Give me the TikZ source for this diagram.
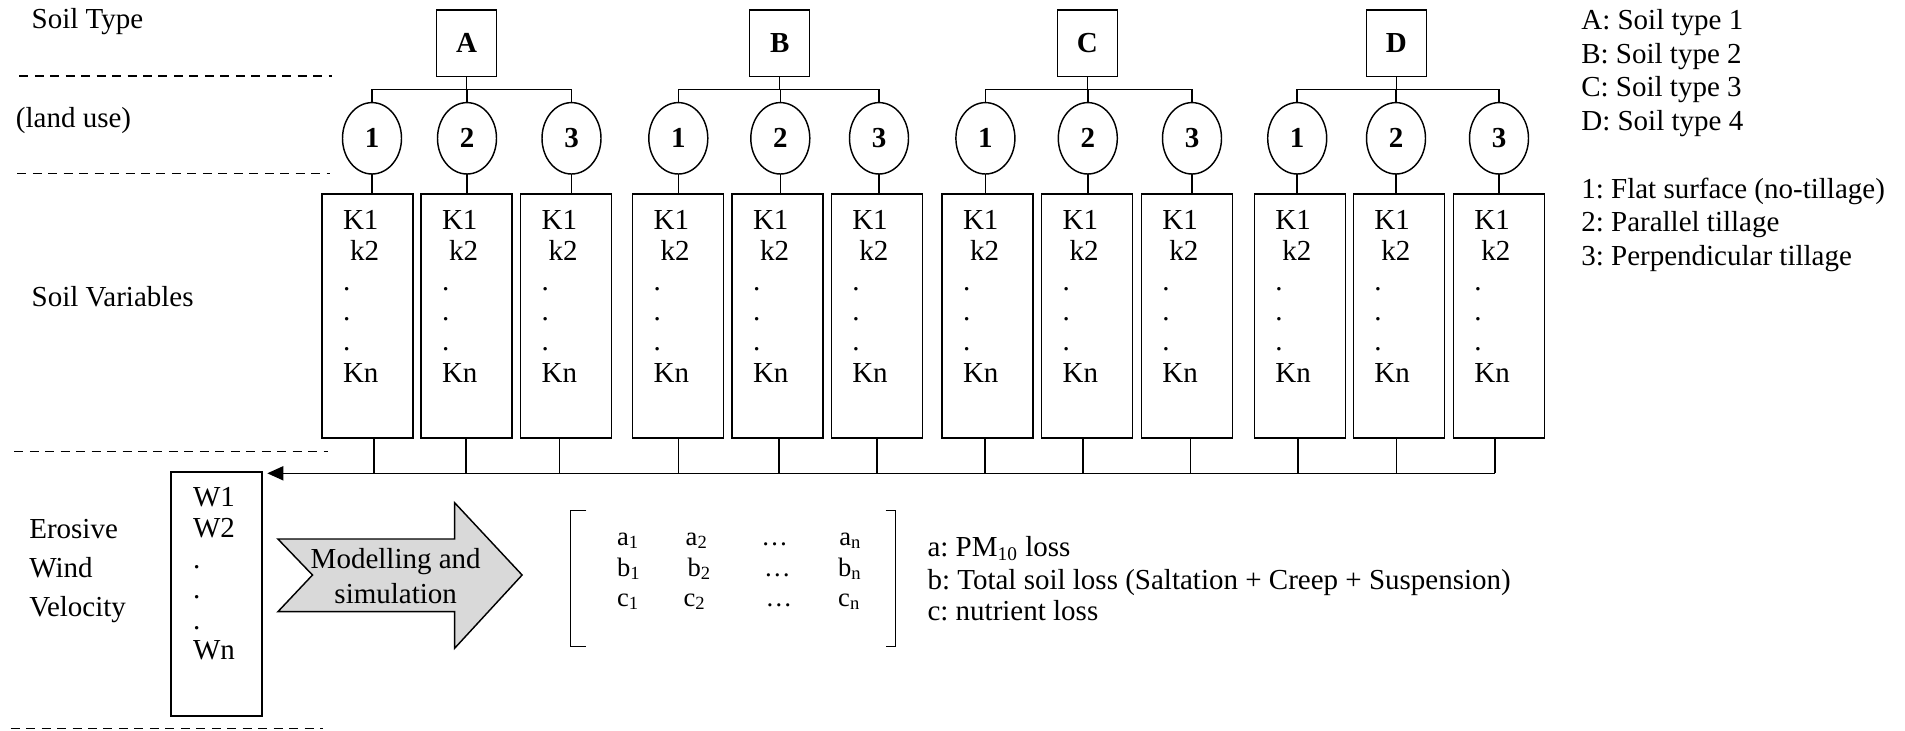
\documentclass[tikz,border=0pt]{standalone}
\usepackage{fontspec}
\setmainfont{Liberation Serif}
\usetikzlibrary{shapes.geometric,arrows.meta}
\newcommand\myfs{\fontsize{12pt}{14pt}\selectfont}
\newcommand\myfsb{\fontsize{12pt}{14pt}\selectfont\bfseries}
\newcommand\mymx{\fontsize{11pt}{13pt}\selectfont}
\def\U{0.4138pt}
\frenchspacing
\begin{document}
\frenchspacing
\begin{tikzpicture}[x=\U, y=-\U, line width=0.6pt,
  every node/.style={inner sep=0pt, outer sep=0pt, font=\myfs},
  txt/.style={anchor=base west},
  ctxt/.style={anchor=base},
  mtxt/.style={anchor=base west, font=\mymx},
  soilbox/.style={draw, rectangle, minimum width=60*\U, minimum height=66.7*\U, font=\myfsb},
  lu/.style={draw, ellipse, minimum width=59*\U, minimum height=71.4*\U, font=\myfsb},
  varbox/.style={draw, rectangle, minimum width=91*\U, minimum height=244*\U, anchor=north west},
  sep/.style={dash pattern=on 3.7pt off 2.7pt, line width=0.55pt},
  grayarrow/.style={fill=black!15, draw=black}
]
\useasboundingbox (0,0) rectangle (1905,730);

% left labels
\node[txt] (lSoilType) at (31.7,28.3) {Soil Type};
\node[txt] (lLand) at (16,127.7) {(land use)};
\node[txt] (lVar) at (31.7,306.7) {Soil Variables};
\node[txt] (lEro) at (29.3,538.5) {Erosive};
\node[txt] (lWind) at (29.3,577.5) {Wind};
\node[txt] (lVel) at (29.3,616.5) {Velocity};

% dashed separators
\draw[sep] (19.3,76) -- (331.7,76);
\draw[sep] (17.3,173.3) -- (330,173.3);
\draw[sep] (14.3,451.3) -- (327.5,451.3);
\draw[sep] (10.7,728.3) -- (323,728.3);

% groups
\foreach \g/\sx/\ea/\eb/\ec/\ba/\bb/\bc/\ca/\cb/\cc in {
  A/466.7/372/467/571.5/322/421/520.7/374/466/559.3,
  B/779.7/678.3/780.3/879/632.7/732/831.3/678.3/779/877,
  C/1087.3/985.4/1087.8/1192/942/1041.7/1141.3/985/1083/1190.7,
  D/1396.3/1297.2/1396/1499/1254.3/1353.3/1453.3/1298/1396.5/1495}{
  \node[soilbox] (S\g) at (\sx,43.3) {\g};
  \coordinate (br\g) at (\sx,89.3);
  \draw (S\g.south) -- (br\g);
  \foreach \i/\ex/\bx/\cx in {1/\ea/\ba/\ca, 2/\eb/\bb/\cb, 3/\ec/\bc/\cc}{
    \node[lu] (e\g\i) at (\ex,138.3) {\i};
    \node[varbox] (v\g\i) at (\bx,194) {};
    \draw (e\g\i.south) -- (e\g\i.south |- v\g\i.north);
    \draw (e\g\i.north) -- (e\g\i.north |- br\g);
    \coordinate (b\g\i) at (\cx,473.3);
    \draw (v\g\i.south -| b\g\i) -- (b\g\i);
    \foreach \t/\dx/\yy [count=\n] in {K1/21/229, k2/28/260, ./21/290, ./21/320, ./21/350, Kn/21/382.3}{
      \node[txt] (t\g\i n\n) at (\bx+\dx,\yy) {\t};
    }
  }
  \draw (e\g1.north |- br\g) -- (e\g3.north |- br\g);
}

% bus to wind box
\coordinate (wtip) at (267.3,473.3);
\draw[-{Triangle[length=6.6pt,width=5.8pt]}] (bD3) -- (wtip);

% wind box
\node[varbox] (W) at (171,472) {};
\foreach \t/\yy [count=\n] in {W1/506.7, W2/537.3, ./568.3, ./598.3, ./629.3, Wn/659}{
  \node[txt] (w\n) at (193,\yy) {\t};
}

% block arrow
\filldraw[grayarrow] (277.9,539) -- (454.6,539) -- (454.6,502.7) -- (522.1,575)
  -- (454.6,648.3) -- (454.6,611.7) -- (277.9,611.7) -- (312.5,575) -- cycle;
\node[ctxt] (model1) at (395.7,568.3) {Modelling and};
\node[ctxt] (model2) at (395.7,603.3) {simulation};

% matrix brackets
\draw (586.4,510.7) -- (570.4,510.7) -- (570.4,646.7) -- (586.4,646.7);
\draw (885.7,510.7) -- (895.4,510.7) -- (895.4,646.7) -- (885.7,646.7);

% matrix entries
\node[mtxt] (ma1) at (617,545) {a\textsubscript{1}};
\node[mtxt] (ma2) at (685.7,545) {a\textsubscript{2}};
\node[mtxt] (ma3) at (761.4,545) {\ldots};
\node[mtxt] (ma4) at (839.3,545) {a\textsubscript{n}};
\node[mtxt] (mb1) at (617,576) {b\textsubscript{1}};
\node[mtxt] (mb2) at (687.5,576) {b\textsubscript{2}};
\node[mtxt] (mb3) at (764,576) {\ldots};
\node[mtxt] (mb4) at (838.2,576) {b\textsubscript{n}};
\node[mtxt] (mc1) at (617,606) {c\textsubscript{1}};
\node[mtxt] (mc2) at (683.6,606) {c\textsubscript{2}};
\node[mtxt] (mc3) at (765.7,606) {\ldots};
\node[mtxt] (mc4) at (838.2,606) {c\textsubscript{n}};

% matrix legend
\node[txt] (la) at (927.5,556) {a: PM\textsubscript{10} loss};
\node[txt] (lb) at (927.5,589) {b: Total soil loss (Saltation + Creep + Suspension)};
\node[txt] (lc) at (927.5,620) {c: nutrient loss};

% right legend
\node[txt] (rA) at (1581.3,29.3) {A: Soil type 1};
\node[txt] (rB) at (1581.3,63.3) {B: Soil type 2};
\node[txt] (rC) at (1581.3,96.7) {C: Soil type 3};
\node[txt] (rD) at (1581.3,130.7) {D: Soil type 4};
\node[txt] (r1) at (1581.3,198.3) {1: Flat surface (no-tillage)};
\node[txt] (r2) at (1581.3,231.7) {2: Parallel tillage};
\node[txt] (r3) at (1581.3,265) {3: Perpendicular tillage};
\end{tikzpicture}
\end{document}
